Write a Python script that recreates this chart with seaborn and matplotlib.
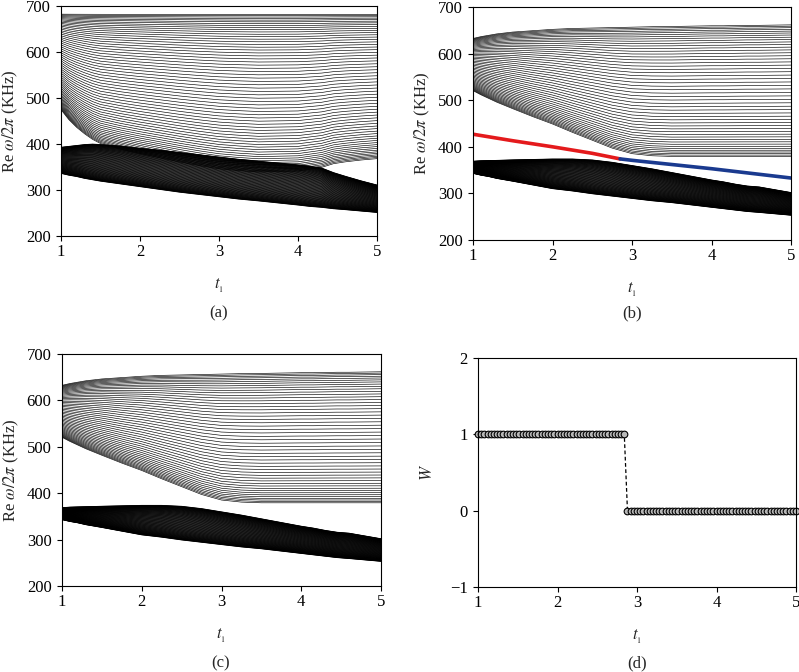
import numpy as np
import pandas as pd
import matplotlib
matplotlib.use("Agg")
import matplotlib.pyplot as plt
import seaborn as sns

# ---------------- data ----------------
T_NODES = [1.0, 1.1, 1.2, 1.3, 1.4, 1.5, 1.75, 2.0, 2.25, 2.5, 2.75, 3.0,
           3.25, 3.5, 4.0, 4.15, 4.3, 4.45, 4.6, 4.8, 5.0]

# panel (a): band envelopes (KHz)
a_up_top = [683] * 21
a_up_bot = [474, 452, 435, 421, 409, 400, 388, 378, 369, 360, 352, 345,
            341, 338, 340, 344, 348, 356, 360, 364, 367]
a_lo_top = [393, 395, 397, 399, 400, 399, 396, 391, 387, 382, 377, 372,
            367, 363, 355, 352, 348, 338, 330, 320, 311]
a_lo_bot = [336, 332, 329, 325, 322, 319, 313, 307, 301, 295, 290, 285,
            280, 276, 267, 264, 262, 259, 257, 254, 251]

# panels (b), (c): band envelopes (KHz)
bc_up_top = [633, 637, 640, 643, 645, 647, 650, 653, 655, 656, 657, 658,
             659, 659.5, 661, 661, 661.5, 662, 662, 662.5, 663]
bc_up_bot = [520, 511, 503, 495, 488, 481, 464, 448, 430, 413, 396, 384,
             379.5, 378, 378, 378, 378, 378, 378, 378, 378]
bc_lo_top = [369, 370, 370.5, 371, 371.5, 372, 373, 374, 374, 372, 367, 360,
             353, 345, 329, 325, 320, 316, 314, 308, 302]
bc_lo_bot = [343, 339, 336, 332, 329, 326, 318, 310, 305, 299, 294, 289,
             284, 280, 270, 267, 264, 261, 259, 256, 253]

N_UP_A = 62
N_LO_A = 70
N_UP_BC = 50
N_LO_BC = 70

# edge state in (b)
red_t = [1.0, 1.5, 2.0, 2.5, 2.85]
red_f = [427, 413, 400, 386, 374]
blue_t = [2.85, 3.0, 3.5, 4.0, 4.5, 5.0]
blue_f = [374, 371, 362, 353, 343, 333]

# panel (d): winding number
d_t = list(np.round(1.0 + 0.04 * np.arange(101), 2))
d_w = [1] * 47 + [0] * 54

# ---------------- style ----------------
sns.set_style("ticks")
FS = 12
plt.rcParams.update({
    "font.family": ["Liberation Serif", "DejaVu Serif"],
    "mathtext.fontset": "stix",
    "font.size": FS,
    "axes.linewidth": 0.8,
    "xtick.direction": "out",
    "ytick.direction": "out",
    "xtick.major.size": 3.5,
    "ytick.major.size": 3.5,
    "xtick.major.width": 0.8,
    "ytick.major.width": 0.8,
    "xtick.major.pad": 2.5,
    "ytick.major.pad": 4,
    "xtick.labelsize": FS,
    "ytick.labelsize": FS,
    "axes.labelsize": FS,
    "axes.edgecolor": "black",
    "xtick.color": "black",
    "ytick.color": "black",
})

fig = plt.figure(figsize=(7.99, 6.72), dpi=100)
ax_a = fig.add_axes([61 / 799, 1 - 236 / 672, 316 / 799, 230 / 672])
ax_b = fig.add_axes([473 / 799, 1 - 240 / 672, 318 / 799, 233 / 672])
ax_c = fig.add_axes([62 / 799, 1 - 586 / 672, 319 / 799, 232 / 672])
ax_d = fig.add_axes([478 / 799, 1 - 587 / 672, 318 / 799, 229 / 672])


def band_frame(lo, hi, n, tag):
    lo = np.asarray(lo, float)
    hi = np.asarray(hi, float)
    x = (np.arange(n) + 0.5) / n
    frac = 0.45 * x + 0.55 * (1 - np.cos(np.pi * x)) / 2
    rows = []
    for j, fr in enumerate(frac):
        vals = lo + fr * (hi - lo)
        for t, v in zip(T_NODES, vals):
            rows.append((t, v, f"{tag}{j}"))
    return pd.DataFrame(rows, columns=["t", "f", "line"])


def draw_bands(ax, bands):
    for lo, hi, n, tag, lw in bands:
        df = band_frame(lo, hi, n, tag)
        sns.lineplot(data=df, x="t", y="f", units="line", estimator=None,
                     color="black", lw=lw, sort=False, ax=ax, legend=False)


draw_bands(ax_a, [(a_lo_bot, a_lo_top, N_LO_A, "l", 0.6),
                  (a_up_bot, a_up_top, N_UP_A, "u", 0.45)])
draw_bands(ax_b, [(bc_lo_bot, bc_lo_top, N_LO_BC, "l", 0.6),
                  (bc_up_bot, bc_up_top, N_UP_BC, "u", 0.45)])
draw_bands(ax_c, [(bc_lo_bot, bc_lo_top, N_LO_BC, "l", 0.6),
                  (bc_up_bot, bc_up_top, N_UP_BC, "u", 0.45)])

sns.lineplot(x=red_t, y=red_f, color="#e41a1c", lw=2.6, ax=ax_b, sort=False)
sns.lineplot(x=blue_t, y=blue_f, color="#1a3a8f", lw=2.6, ax=ax_b, sort=False)

for ax in (ax_a, ax_b, ax_c):
    ax.set_xlim(1, 5)
    ax.set_ylim(200, 700)
    ax.set_xticks([1, 2, 3, 4, 5])
    ax.set_yticks([200, 300, 400, 500, 600, 700])
    ax.set_ylabel(r"Re $\omega/2\pi$ (KHz)", labelpad=4)
    ax.set_xlabel(r"$t_{_1}$", labelpad=12)

# panel (d)
dfd = pd.DataFrame({"t": d_t, "W": d_w})
sns.lineplot(data=dfd, x="t", y="W", color="black", lw=0.9, ax=ax_d,
             linestyle=(0, (3, 2)), marker="o", markersize=4.8,
             markerfacecolor="#b8b8b8", markeredgecolor="black",
             markeredgewidth=0.8, sort=False, clip_on=False)
ax_d.set_xlim(1, 5)
ax_d.set_ylim(-1, 2)
ax_d.set_xticks([1, 2, 3, 4, 5])
ax_d.set_yticks([-1, 0, 1, 2])
ax_d.set_yticklabels(["\u22121", "0", "1", "2"])
ax_d.set_ylabel(r"$W$", labelpad=10)
ax_d.set_xlabel(r"$t_{_1}$", labelpad=12)

for ax in (ax_a, ax_b, ax_c, ax_d):
    for s in ax.spines.values():
        s.set_visible(True)
        s.set_color("black")

fig.text(219 / 799, 1 - 313 / 672, "(a)", ha="center", va="center", fontsize=FS)
fig.text(632 / 799, 1 - 313 / 672, "(b)", ha="center", va="center", fontsize=FS)
fig.text(221 / 799, 1 - 663 / 672, "(c)", ha="center", va="center", fontsize=FS)
fig.text(637 / 799, 1 - 663 / 672, "(d)", ha="center", va="center", fontsize=FS)

fig.savefig("out.png", dpi=100, facecolor="white")
